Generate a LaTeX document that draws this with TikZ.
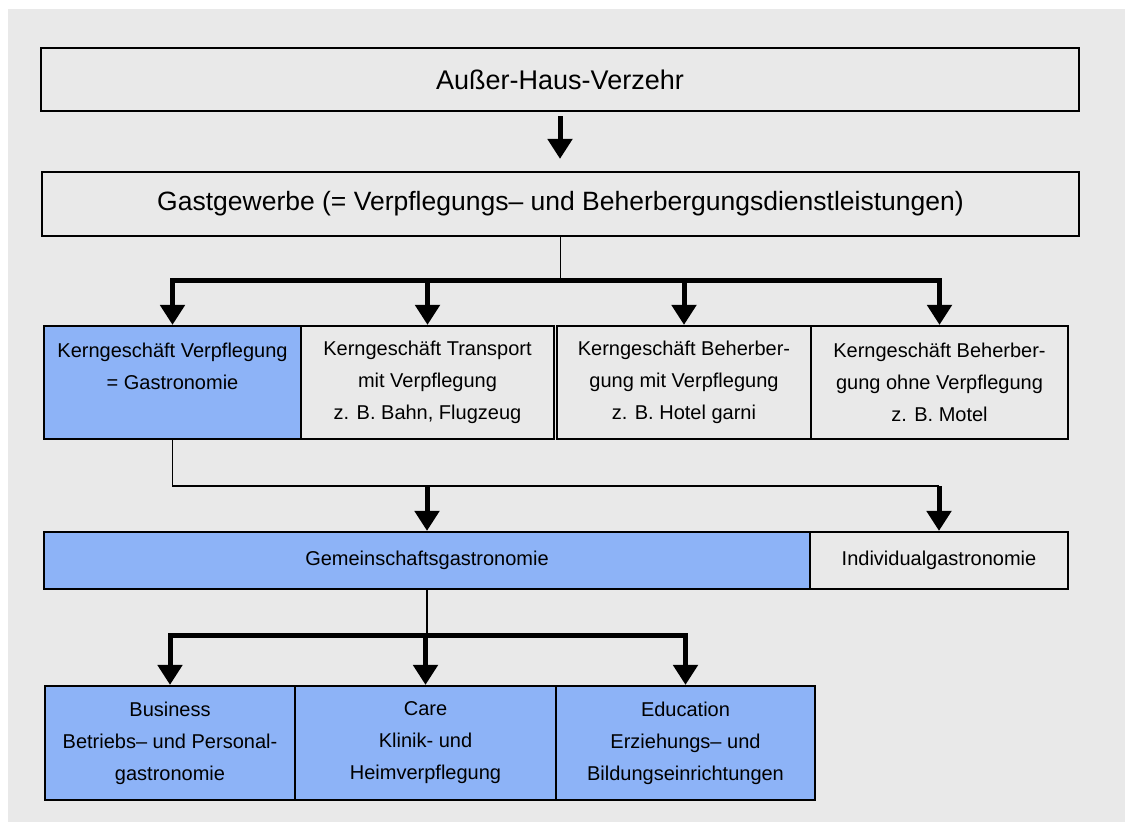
\documentclass[tikz,border=0pt]{standalone}
\usepackage{fontspec}
\setmainfont{Liberation Sans}
\usetikzlibrary{arrows.meta}
\definecolor{bgGray}{RGB}{233,233,233}
\definecolor{boxBlue}{RGB}{141,179,247}

\begin{document}
\begin{tikzpicture}[x=1pt, y=-1pt,
    box/.style={draw, line width=2.2pt, inner sep=0pt, align=center, font=\fontsize{20}{32}\selectfont},
    hilite/.style={box, fill=boxBlue},
    link/.style={line width=1.8pt},
    bar/.style={line width=5pt, line cap=rect},
    arr/.style={line width=5pt, -{Triangle[width=24pt, length=20pt]}}]
    \useasboundingbox (0,0) rectangle (1125,828);
    \fill[bgGray] (8,9) rectangle (1125,822);
    % top levels
    \node[box, minimum width=1038pt, minimum height=63pt, font=\fontsize{27}{32}\selectfont] (haus) at (560,79.5) {Außer-Haus-Verzehr};
    \node[box, minimum width=1037pt, minimum height=64pt, font=\fontsize{26.5}{32}\selectfont] (gast) at (560.5,204) {Gastgewerbe (= Verpflegungs– und Beherbergungsdienstleistungen)};
    \draw[arr, shorten <=4pt, shorten >=12pt] (haus.south) -- (haus.south |- gast.north);
    % core businesses
    \node[hilite, minimum width=257pt, minimum height=113pt] (kv) at (172.5,382.5) {Kerngeschäft Verpflegung\\= Gastronomie\\\mbox{}};
    \node[box, minimum width=253pt, minimum height=113pt] (kt) at (427.5,382.5) {Kerngeschäft Transport\\mit Verpflegung\\z. B. Bahn, Flugzeug};
    \node[box, minimum width=254pt, minimum height=113pt] (kb) at (684,382.5) {Kerngeschäft Beherber-\\gung mit Verpflegung\\z. B. Hotel garni};
    \node[box, minimum width=257pt, minimum height=113pt] (ko) at (939.5,382.5) {Kerngeschäft Beherber-\\gung ohne Verpflegung\\z. B. Motel};
    \coordinate (fork1) at (0,280);
    \draw[link] (gast.south) -- (gast.south |- fork1);
    \draw[bar] (kv.north |- fork1) -- (ko.north |- fork1);
    \foreach \n in {kv,kt,kb,ko}
      \draw[arr] (\n.north |- fork1) -- (\n.north);
    % gastronomy
    \node[hilite, minimum width=766pt, minimum height=57pt] (gemein) at (427,560.5) {Gemeinschaftsgastronomie};
    \node[box, minimum width=258pt, minimum height=57pt] (indiv) at (939,560.5) {Individualgastronomie};
    \coordinate (fork2) at (0,486);
    \draw[link] (kv.south) |- (indiv.north |- fork2);
    \draw[arr] (gemein.north |- fork2) -- (gemein.north);
    \draw[arr] (indiv.north |- fork2) -- (indiv.north);
    % segments
    \begin{scope}[every node/.append style={minimum height=114pt, font=\fontsize{20}{34}\selectfont}]
      \node[hilite, minimum width=250pt] (bus) at (170,743) {Business\\Betriebs– und Personal-\\gastronomie};
      \node[hilite, minimum width=261pt] (care) at (425.5,743) {Care\\Klinik- und\\Heimverpflegung};
      \node[hilite, minimum width=259pt] (edu) at (685.5,743) {Education\\Erziehungs– und\\Bildungseinrichtungen};
    \end{scope}
    \coordinate (fork3) at (0,635);
    \draw[link] (gemein.south) -- (gemein.south |- fork3);
    \draw[bar] (bus.north |- fork3) -- (edu.north |- fork3);
    \foreach \n in {bus,care,edu}
      \draw[arr] (\n.north |- fork3) -- (\n.north);
  \end{tikzpicture}
\end{document}
